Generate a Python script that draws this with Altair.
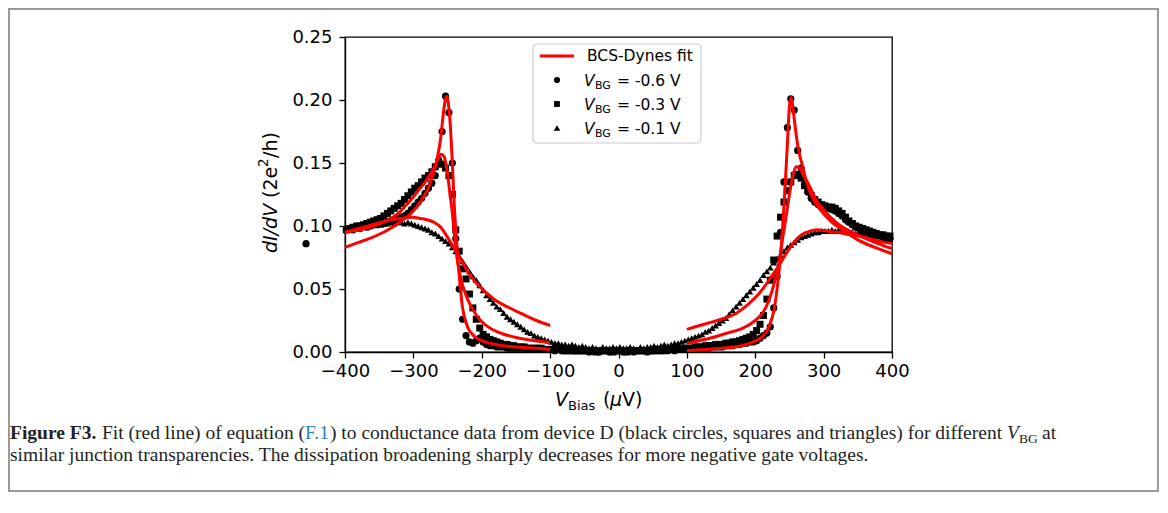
import altair as alt
import pandas as pd

# ---------------- data ----------------
bias_grid = list(range(-398, 400, 5))  # measurement bias points (uV)

g_m06 = [
    0.097, 0.098, 0.097, 0.099, 0.098, 0.100, 0.099, 0.100, 0.101, 0.101,
    0.102, 0.102, 0.103, 0.104, 0.104, 0.106, 0.107, 0.108, 0.110, 0.113,
    0.116, 0.119, 0.122, 0.126, 0.130, 0.134, 0.140, 0.152, 0.175, 0.203,
    0.190, 0.150, 0.090, 0.050, 0.026, 0.013, 0.008, 0.007, 0.009, 0.011,
    0.008, 0.006, 0.005, 0.005, 0.004, 0.004, 0.004, 0.003, 0.003, 0.003,
    0.003, 0.003, 0.002, 0.002, 0.002, 0.002, 0.002, 0.002, 0.002, 0.002,
    0.002, 0.001, 0.002, 0.001, 0.001, 0.001, 0.001, 0.001, 0.001, 0.001,
    0.001, 0.000, 0.001, 0.001, 0.000, 0.001, 0.001, 0.000, 0.001, 0.001,
    0.001, 0.000, 0.001, 0.001, 0.000, 0.001, 0.001, 0.001, 0.000, 0.001,
    0.001, 0.001, 0.001, 0.001, 0.001, 0.002, 0.001, 0.002, 0.002, 0.002,
    0.002, 0.002, 0.002, 0.003, 0.003, 0.003, 0.003, 0.004, 0.004, 0.004,
    0.004, 0.005, 0.005, 0.005, 0.006, 0.006, 0.007, 0.007, 0.008, 0.008,
    0.009, 0.011, 0.013, 0.015, 0.020, 0.035, 0.060, 0.095, 0.135, 0.178,
    0.201, 0.192, 0.160, 0.146, 0.133, 0.127, 0.122, 0.119, 0.117, 0.116,
    0.115, 0.114, 0.113, 0.112, 0.110, 0.108, 0.105, 0.103, 0.101, 0.099,
    0.098, 0.096, 0.095, 0.094, 0.093, 0.092, 0.092, 0.091, 0.090, 0.090,
]
g_m03 = [
    0.097, 0.098, 0.099, 0.100, 0.100, 0.101, 0.102, 0.103, 0.104, 0.105,
    0.106, 0.108, 0.110, 0.112, 0.114, 0.116, 0.118, 0.121, 0.124, 0.127,
    0.130, 0.132, 0.135, 0.138, 0.140, 0.143, 0.147, 0.150, 0.149, 0.146,
    0.140, 0.125, 0.097, 0.080, 0.066, 0.058, 0.046, 0.035, 0.026, 0.019,
    0.014, 0.012, 0.010, 0.009, 0.008, 0.007, 0.006, 0.006, 0.005, 0.005,
    0.004, 0.004, 0.004, 0.003, 0.003, 0.003, 0.003, 0.003, 0.002, 0.002,
    0.002, 0.002, 0.002, 0.002, 0.001, 0.002, 0.001, 0.001, 0.001, 0.001,
    0.001, 0.001, 0.001, 0.000, 0.001, 0.001, 0.001, 0.001, 0.000, 0.001,
    0.001, 0.001, 0.000, 0.001, 0.001, 0.001, 0.001, 0.001, 0.001, 0.001,
    0.001, 0.002, 0.001, 0.002, 0.002, 0.002, 0.002, 0.002, 0.002, 0.003,
    0.003, 0.003, 0.004, 0.004, 0.004, 0.005, 0.005, 0.005, 0.006, 0.006,
    0.006, 0.007, 0.007, 0.008, 0.008, 0.009, 0.010, 0.011, 0.012, 0.014,
    0.017, 0.022, 0.029, 0.042, 0.057, 0.073, 0.092, 0.107, 0.119, 0.128,
    0.135, 0.140, 0.141, 0.138, 0.132, 0.128, 0.124, 0.121, 0.119, 0.117,
    0.116, 0.115, 0.115, 0.114, 0.112, 0.110, 0.107, 0.104, 0.102, 0.100,
    0.099, 0.098, 0.097, 0.096, 0.095, 0.094, 0.093, 0.093, 0.092, 0.092,
]
g_m01 = [
    0.098, 0.099, 0.098, 0.100, 0.099, 0.100, 0.101, 0.100, 0.101, 0.102,
    0.101, 0.102, 0.102, 0.103, 0.102, 0.103, 0.103, 0.102, 0.103, 0.102,
    0.101, 0.100, 0.099, 0.098, 0.097, 0.095, 0.094, 0.092, 0.090, 0.088,
    0.086, 0.083, 0.080, 0.076, 0.072, 0.068, 0.064, 0.060, 0.057, 0.053,
    0.049, 0.045, 0.042, 0.039, 0.036, 0.034, 0.031, 0.028, 0.026, 0.024,
    0.022, 0.020, 0.018, 0.016, 0.015, 0.013, 0.012, 0.011, 0.010, 0.009,
    0.008, 0.007, 0.007, 0.006, 0.006, 0.005, 0.006, 0.005, 0.004, 0.005,
    0.004, 0.003, 0.004, 0.003, 0.002, 0.004, 0.003, 0.003, 0.004, 0.003,
    0.004, 0.003, 0.003, 0.004, 0.003, 0.002, 0.004, 0.003, 0.004, 0.004,
    0.005, 0.004, 0.005, 0.006, 0.005, 0.006, 0.007, 0.007, 0.008, 0.009,
    0.010, 0.011, 0.012, 0.013, 0.014, 0.016, 0.017, 0.019, 0.021, 0.023,
    0.025, 0.027, 0.030, 0.033, 0.036, 0.039, 0.042, 0.045, 0.048, 0.051,
    0.054, 0.057, 0.061, 0.064, 0.067, 0.071, 0.074, 0.077, 0.080, 0.083,
    0.085, 0.087, 0.089, 0.091, 0.092, 0.093, 0.094, 0.095, 0.095, 0.096,
    0.096, 0.096, 0.097, 0.096, 0.097, 0.096, 0.096, 0.095, 0.095, 0.094,
    0.095, 0.094, 0.094, 0.093, 0.093, 0.092, 0.092, 0.091, 0.091, 0.090,
]
# one -0.6 V point plotted outside the axes on the left
outlier_v = [-457]
outlier_g = [0.086]

# BCS-Dynes fits (left and right branches)
fit_sharp_left_v = [-400, -380, -360, -340, -320, -300, -290, -280, -270, -265, -260, -256, -253, -251, -249,
                    -246, -243, -240, -237, -234, -231, -228, -224, -220, -212, -200, -180, -150, -120, -100]
fit_sharp_left_g = [0.083, 0.087, 0.091, 0.096, 0.103, 0.112, 0.119, 0.128, 0.143, 0.154, 0.170, 0.190, 0.201,
                    0.203, 0.198, 0.180, 0.150, 0.115, 0.090, 0.068, 0.049, 0.035, 0.025, 0.019, 0.013, 0.009,
                    0.006, 0.004, 0.003, 0.002]
fit_sharp_right_v = [100, 150, 180, 197, 210, 220, 228, 234, 239, 243, 247, 250, 252, 254, 257, 261, 265, 268,
                     275, 285, 295, 310, 330, 350, 375, 400]
fit_sharp_right_g = [0.001, 0.003, 0.005, 0.008, 0.012, 0.020, 0.035, 0.060, 0.090, 0.125, 0.165, 0.195, 0.202,
                     0.198, 0.185, 0.168, 0.156, 0.150, 0.135, 0.121, 0.113, 0.104, 0.096, 0.089, 0.083, 0.078]
fit_mid_left_v = [-400, -380, -360, -340, -320, -310, -300, -290, -280, -270, -264, -259, -255, -251, -247,
                  -243, -239, -235, -230, -225, -220, -210, -200, -185, -170, -150, -130, -100]
fit_mid_left_g = [0.095, 0.097, 0.0995, 0.104, 0.111, 0.117, 0.123, 0.130, 0.137, 0.146, 0.153, 0.157, 0.155,
                  0.145, 0.128, 0.110, 0.088, 0.070, 0.057, 0.048, 0.041, 0.031, 0.024, 0.018, 0.0145, 0.0115,
                  0.0095, 0.0075]
fit_mid_right_v = [100, 150, 200, 220, 228, 235, 240, 245, 250, 255, 260, 265, 270, 280, 290, 300, 320, 350,
                   375, 400]
fit_mid_right_g = [0.0069, 0.0135, 0.025, 0.041, 0.055, 0.072, 0.090, 0.107, 0.125, 0.140, 0.147, 0.146, 0.141,
                   0.131, 0.120, 0.113, 0.102, 0.093, 0.087, 0.082]
fit_broad_left_v = [-400, -380, -360, -340, -320, -300, -290, -280, -270, -260, -250, -240, -230, -222, -210,
                    -193, -180, -163, -140, -120, -100]
fit_broad_left_g = [0.095, 0.098, 0.101, 0.104, 0.106, 0.107, 0.106, 0.105, 0.103, 0.099, 0.091, 0.082, 0.073,
                    0.065, 0.056, 0.047, 0.041, 0.036, 0.030, 0.025, 0.021]
fit_broad_right_v = [100, 125, 150, 173, 190, 205, 215, 225, 235, 245, 255, 265, 275, 290, 305, 320, 340, 360,
                     380, 400]
fit_broad_right_g = [0.018, 0.022, 0.026, 0.031, 0.038, 0.046, 0.053, 0.061, 0.069, 0.078, 0.086, 0.092, 0.095,
                     0.097, 0.096, 0.095, 0.093, 0.091, 0.088, 0.086]

x_ticks = [-400, -300, -200, -100, 0, 100, 200, 300, 400]
y_ticks = [0.0, 0.05, 0.10, 0.15, 0.20, 0.25]
series_names = ["-0.6 V", "-0.3 V", "-0.1 V"]

# ---------------- tables ----------------
rows = []
for name, vals in zip(series_names, [g_m06, g_m03, g_m01]):
    for v, g in zip(bias_grid, vals):
        rows.append({"V": v, "G": g, "series": name})
for v, g in zip(outlier_v, outlier_g):
    rows.append({"V": v, "G": g, "series": "-0.6 V"})
pts = pd.DataFrame(rows)

fit_rows = []
for cid, (vs, gs) in {
    "sharpL": (fit_sharp_left_v, fit_sharp_left_g),
    "sharpR": (fit_sharp_right_v, fit_sharp_right_g),
    "midL": (fit_mid_left_v, fit_mid_left_g),
    "midR": (fit_mid_right_v, fit_mid_right_g),
    "broadL": (fit_broad_left_v, fit_broad_left_g),
    "broadR": (fit_broad_right_v, fit_broad_right_g),
}.items():
    for v, g in zip(vs, gs):
        fit_rows.append({"V": v, "G": g, "curve": cid})
fits = pd.DataFrame(fit_rows)

one = pd.DataFrame({"k": [0]})

FONT = "DejaVu Sans"
SERIF = "Liberation Serif"

xenc = alt.X("V:Q", scale=alt.Scale(domain=[-400, 400], nice=False, zero=False),
             axis=alt.Axis(values=x_ticks, format="d", title=None, labelPadding=4,
                           labelOverlap=False, labelFlush=False))
yenc = alt.Y("G:Q", scale=alt.Scale(domain=[0, 0.25], nice=False),
             axis=alt.Axis(values=y_ticks, format=".2f", title=None, labelPadding=7,
                           labelOverlap=False, labelFlush=False))

points = alt.Chart(pts).mark_point(filled=True, opacity=1, color="black", strokeWidth=0).encode(
    x=xenc, y=yenc,
    shape=alt.Shape("series:N", scale=alt.Scale(domain=series_names, range=["circle", "square", "triangle-up"]),
                    legend=None),
    size=alt.Size("series:N", scale=alt.Scale(domain=series_names, range=[52, 46, 60]), legend=None),
)

lines = alt.Chart(fits).mark_line(color="#ff0000", strokeWidth=3, interpolate="monotone").encode(
    x="V:Q", y="G:Q", detail="curve:N", order="V:Q"
)


def txt(s, x, y, size=17, style="normal", weight="normal", font=FONT, color="black",
        align="left", baseline="alphabetic", angle=0):
    return alt.Chart(one).mark_text(text=s, font=font, fontSize=size, fontStyle=style, fontWeight=weight,
                                    color=color, align=align, baseline=baseline, angle=angle).encode(
        x=alt.value(x), y=alt.value(y))


def sym(shape, x, y, size):
    return alt.Chart(one).mark_point(shape=shape, filled=True, opacity=1, color="black", strokeWidth=0,
                                     size=size).encode(x=alt.value(x), y=alt.value(y))


# legend (plot-area coordinates)
legend_box = alt.Chart(one).mark_rect(fill="white", fillOpacity=0.85, stroke="#cccccc", strokeWidth=1.2,
                                      cornerRadius=4).encode(
    x=alt.value(188), x2=alt.value(356), y=alt.value(7), y2=alt.value(106))
legend_line = alt.Chart(one).mark_rule(color="#ff0000", strokeWidth=3).encode(
    x=alt.value(195), x2=alt.value(229), y=alt.value(19))
LF = 15.5
legend_parts = [
    legend_box, legend_line,
    txt("BCS-Dynes fit", 242, 19, size=LF, baseline="middle"),
]
for i, (shape, size, lab) in enumerate([("circle", 38, "-0.6 V"), ("square", 34, "-0.3 V"),
                                         ("triangle-up", 44, "-0.1 V")]):
    yy = 43 + 24 * i
    legend_parts += [
        sym(shape, 212, yy, size),
        txt("V", 239, yy + 5.5, size=LF, style="italic"),
        txt("BG", 250, yy + 9, size=11),
        txt("= " + lab, 272, yy + 5.5, size=LF),
    ]

# axis titles
axis_titles = [
    txt("V", 210, 369, size=19, style="italic"),
    txt("Bias", 223, 373, size=13),
    txt("(", 258, 369, size=19),
    txt("\u03bc", 265, 369, size=19, style="italic"),
    txt("V)", 277, 369, size=19),
    txt("dI/dV", -74, 216, size=19, style="italic", baseline="middle", angle=270),
    txt("(2e", -74, 161, size=19, baseline="middle", angle=270),
    txt("2", -81, 130, size=13.5, baseline="middle", angle=270),
    txt("/h)", -74, 121, size=19, baseline="middle", angle=270),
]

# caption
CF = 19.5
cap_y1 = 402
cap_y2 = 424
caption = [
    txt("Figure F3.", -335, cap_y1, size=CF, weight="bold", font=SERIF, color="#231f20"),
    txt("Fit (red line) of equation (", -243, cap_y1, size=CF, font=SERIF, color="#231f20"),
    txt("F.1", -40, cap_y1, size=CF, font=SERIF, color="#2a7fc1"),
    txt(") to conductance data from device D (black circles, squares and triangles) for different",
        -15, cap_y1, size=CF, font=SERIF, color="#231f20"),
    txt("V", 662, cap_y1, size=CF, style="italic", font=SERIF, color="#231f20"),
    txt("BG", 674, cap_y1 + 4, size=13.5, font=SERIF, color="#231f20"),
    txt("at", 697, cap_y1, size=CF, font=SERIF, color="#231f20"),
    txt("similar junction transparencies. The dissipation broadening sharply decreases for more negative "
        "gate voltages.", -335, cap_y2, size=CF, font=SERIF, color="#231f20"),
]

border = alt.Chart(one).mark_rect(fillOpacity=0, fill="white", stroke="#9a9a9a", strokeWidth=2).encode(
    x=alt.value(-336), x2=alt.value(813), y=alt.value(-28), y2=alt.value(454))

chart = alt.layer(
    border, points, lines, *legend_parts, *axis_titles, *caption
).properties(
    width=547, height=315,
    autosize=alt.AutoSizeParams(type="none"),
    padding={"left": 337, "top": 29, "right": 268, "bottom": 148},
).configure_view(
    stroke="black", strokeWidth=1.3
).configure_axis(
    grid=False, domainColor="black", domainWidth=1.3, tickColor="black", tickWidth=1.3, tickSize=6,
    labelFont=FONT, labelFontSize=18, labelColor="black",
)

chart.save("out.html", embed_options={"renderer": "svg", "actions": False})
